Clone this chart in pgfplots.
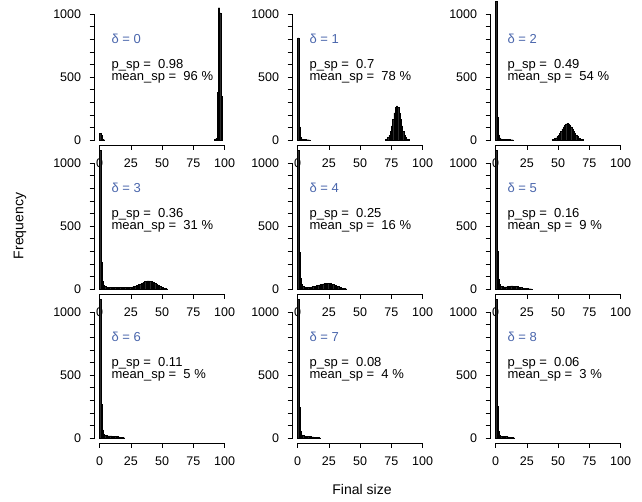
\documentclass[border=0pt]{standalone}
\usepackage{fontspec}
\setmainfont{Liberation Sans}
\usepackage{pgfplots}
\pgfplotsset{compat=1.18}
\definecolor{DeltaBlue}{HTML}{4A66AC}
\definecolor{BarFill}{HTML}{2B2B2B}
\pgfplotsset{
  hpanel/.style={
    scale only axis,width=135pt,height=136pt,anchor=south west,
    xmin=-4,xmax=104,ymin=-40,ymax=1040,
    axis x line*=bottom,axis y line*=left,axis line style={draw=none},
    xtick={0,25,50,75,100},ytick={0,500,1000},
    minor ytick={100,200,300,400,600,700,800,900},
    tick align=outside,major tick length=5pt,minor tick length=5pt,
    tick style={black,line width=0.5pt},
    /pgf/number format/assume math mode=true,
    /pgf/number format/1000 sep={},
    ticklabel style={font=\fontsize{12.5}{13}\selectfont},
    xticklabel style={yshift=-5pt},
    yticklabel style={xshift=-5pt},
    clip=false,
    ybar,bar width=1,bar shift=0pt,
    cycle list={{fill=BarFill,draw=BarFill,line width=0.8pt}}}}
\tikzset{note/.style={anchor=west,inner sep=0pt,align=left,font=\fontsize{13}{11.3}\selectfont}}
\newcommand{\axisframe}{%
  \draw[line width=0.5pt] (axis cs:0,-40) -- (axis cs:100,-40);
  \draw[line width=0.5pt] (axis cs:-4,0) -- (axis cs:-4,1000);}
\newcommand{\panellabels}[3]{%
  \node[note,text=DeltaBlue] at (axis cs:9.4,800) {δ = #1};
  \node[note] at (axis cs:9.4,545) {p\_sp =\ \ #2\\mean\_sp =\ \ #3 \%};}

\begin{document}
\begin{tikzpicture}
\useasboundingbox (0,0) rectangle (642pt,502pt);
% row 1
\begin{axis}[hpanel,at={(94.6pt,357pt)}]
\addplot coordinates {(0.5,50)(1.5,38)(2.5,6)(3.5,2)(92.5,3)(93.5,15)(94.5,380)(95.5,1050)(96.5,1010)(97.5,350)};
\axisframe\panellabels{0}{0.98}{96}
\end{axis}
\begin{axis}[hpanel,at={(292.6pt,357pt)}]
\addplot coordinates {(0.5,810)(1.5,105)(2.5,22)(3.5,9)(4.5,5)(5.5,4)(6.5,3)(7.5,2)(8.5,2)(9.5,1)
 (70.5,3)(71.5,8)(72.5,18)(73.5,36)(74.5,67)(75.5,111)(76.5,164)(77.5,216)(78.5,257)(79.5,270)
 (80.5,257)(81.5,216)(82.5,164)(83.5,111)(84.5,67)(85.5,36)(86.5,18)(87.5,8)(88.5,3)};
\axisframe\panellabels{1}{0.7}{78}
\end{axis}
\begin{axis}[hpanel,at={(490.6pt,357pt)}]
\addplot coordinates {(0.5,1100)(1.5,180)(2.5,40)(3.5,16)(4.5,9)(5.5,6)(6.5,5)(7.5,4)(8.5,4)(9.5,3)(10.5,3)(11.5,3)(12.5,2)(13.5,2)
 (45.5,3)(46.5,6)(47.5,11)(48.5,17)(49.5,27)(50.5,39)(51.5,53)(52.5,70)(53.5,87)(54.5,104)(55.5,117)(56.5,127)(57.5,130)
 (58.5,127)(59.5,117)(60.5,104)(61.5,87)(62.5,70)(63.5,53)(64.5,39)(65.5,27)(66.5,17)(67.5,11)(68.5,6)(69.5,3)};
\axisframe\panellabels{2}{0.49}{54}
\end{axis}
% row 2
\begin{axis}[hpanel,at={(94.6pt,208pt)}]
\addplot coordinates {(0.5,1100)(1.5,215)(2.5,60)(3.5,28)(4.5,18)(5.5,14)(6.5,13)(7.5,12)(8.5,12)(9.5,11)(10.5,11)(11.5,10)
 (12.5,10)(13.5,10)(14.5,10)(15.5,10)(16.5,10)(17.5,10)(18.5,10)(19.5,10)(20.5,11)(21.5,11)(22.5,12)(23.5,12)(24.5,13)
 (25.5,14)(26.5,16)(27.5,19)(28.5,22)(29.5,26)(30.5,30)(31.5,34)(32.5,39)(33.5,44)(34.5,49)(35.5,54)(36.5,58)(37.5,61)
 (38.5,64)(39.5,65)(40.5,63)(41.5,60)(42.5,56)(43.5,51)(44.5,45)(45.5,39)(46.5,32)(47.5,26)(48.5,20)(49.5,15)(50.5,11)
 (51.5,7)(52.5,4)(53.5,2)};
\axisframe\panellabels{3}{0.36}{31}
\end{axis}
\begin{axis}[hpanel,at={(292.6pt,208pt)}]
\addplot coordinates {(0.5,1100)(1.5,290)(2.5,85)(3.5,35)(4.5,22)(5.5,17)(6.5,15)(7.5,14)(8.5,14)(9.5,14)(10.5,15)(11.5,16)
 (12.5,18)(13.5,20)(14.5,23)(15.5,26)(16.5,29)(17.5,32)(18.5,35)(19.5,38)(20.5,40)(21.5,42)(22.5,44)(23.5,45)(24.5,45)
 (25.5,44)(26.5,42)(27.5,39)(28.5,35)(29.5,31)(30.5,27)(31.5,22)(32.5,18)(33.5,14)(34.5,10)(35.5,7)(36.5,5)(37.5,3)(38.5,2)};
\axisframe\panellabels{4}{0.25}{16}
\end{axis}
\begin{axis}[hpanel,at={(490.6pt,208pt)}]
\addplot coordinates {(0.5,1100)(1.5,300)(2.5,78)(3.5,35)(4.5,22)(5.5,18)(6.5,16)(7.5,16)(8.5,17)(9.5,19)(10.5,21)(11.5,23)
 (12.5,24)(13.5,24)(14.5,23)(15.5,22)(16.5,20)(17.5,18)(18.5,15)(19.5,12)(20.5,10)(21.5,8)(22.5,6)(23.5,5)(24.5,4)
 (25.5,3)(26.5,2)(27.5,2)(28.5,1)};
\axisframe\panellabels{5}{0.16}{9}
\end{axis}
% row 3
\begin{axis}[hpanel,at={(94.6pt,59pt)}]
\addplot coordinates {(0.5,1100)(1.5,265)(2.5,65)(3.5,30)(4.5,22)(5.5,18)(6.5,17)(7.5,16)(8.5,16)(9.5,16)(10.5,15)(11.5,14)
 (12.5,13)(13.5,12)(14.5,10)(15.5,8)(16.5,6)(17.5,4)(18.5,3)(19.5,2)};
\axisframe\panellabels{6}{0.11}{5}
\end{axis}
\begin{axis}[hpanel,at={(292.6pt,59pt)}]
\addplot coordinates {(0.5,1100)(1.5,242)(2.5,55)(3.5,25)(4.5,18)(5.5,15)(6.5,14)(7.5,13)(8.5,12)(9.5,11)(10.5,10)(11.5,9)
 (12.5,8)(13.5,6)(14.5,5)(15.5,4)(16.5,3)(17.5,2)};
\axisframe\panellabels{7}{0.08}{4}
\end{axis}
\begin{axis}[hpanel,at={(490.6pt,59pt)}]
\addplot coordinates {(0.5,1100)(1.5,252)(2.5,50)(3.5,22)(4.5,15)(5.5,13)(6.5,12)(7.5,11)(8.5,10)(9.5,9)(10.5,8)(11.5,6)
 (12.5,4)(13.5,3)(14.5,2)};
\axisframe\panellabels{8}{0.06}{3}
\end{axis}
\node[rotate=90,font=\fontsize{14}{15}\selectfont] at (20pt,276pt) {Frequency};
\node[font=\fontsize{14}{15}\selectfont] at (362pt,13pt) {Final size};
\end{tikzpicture}
\end{document}
